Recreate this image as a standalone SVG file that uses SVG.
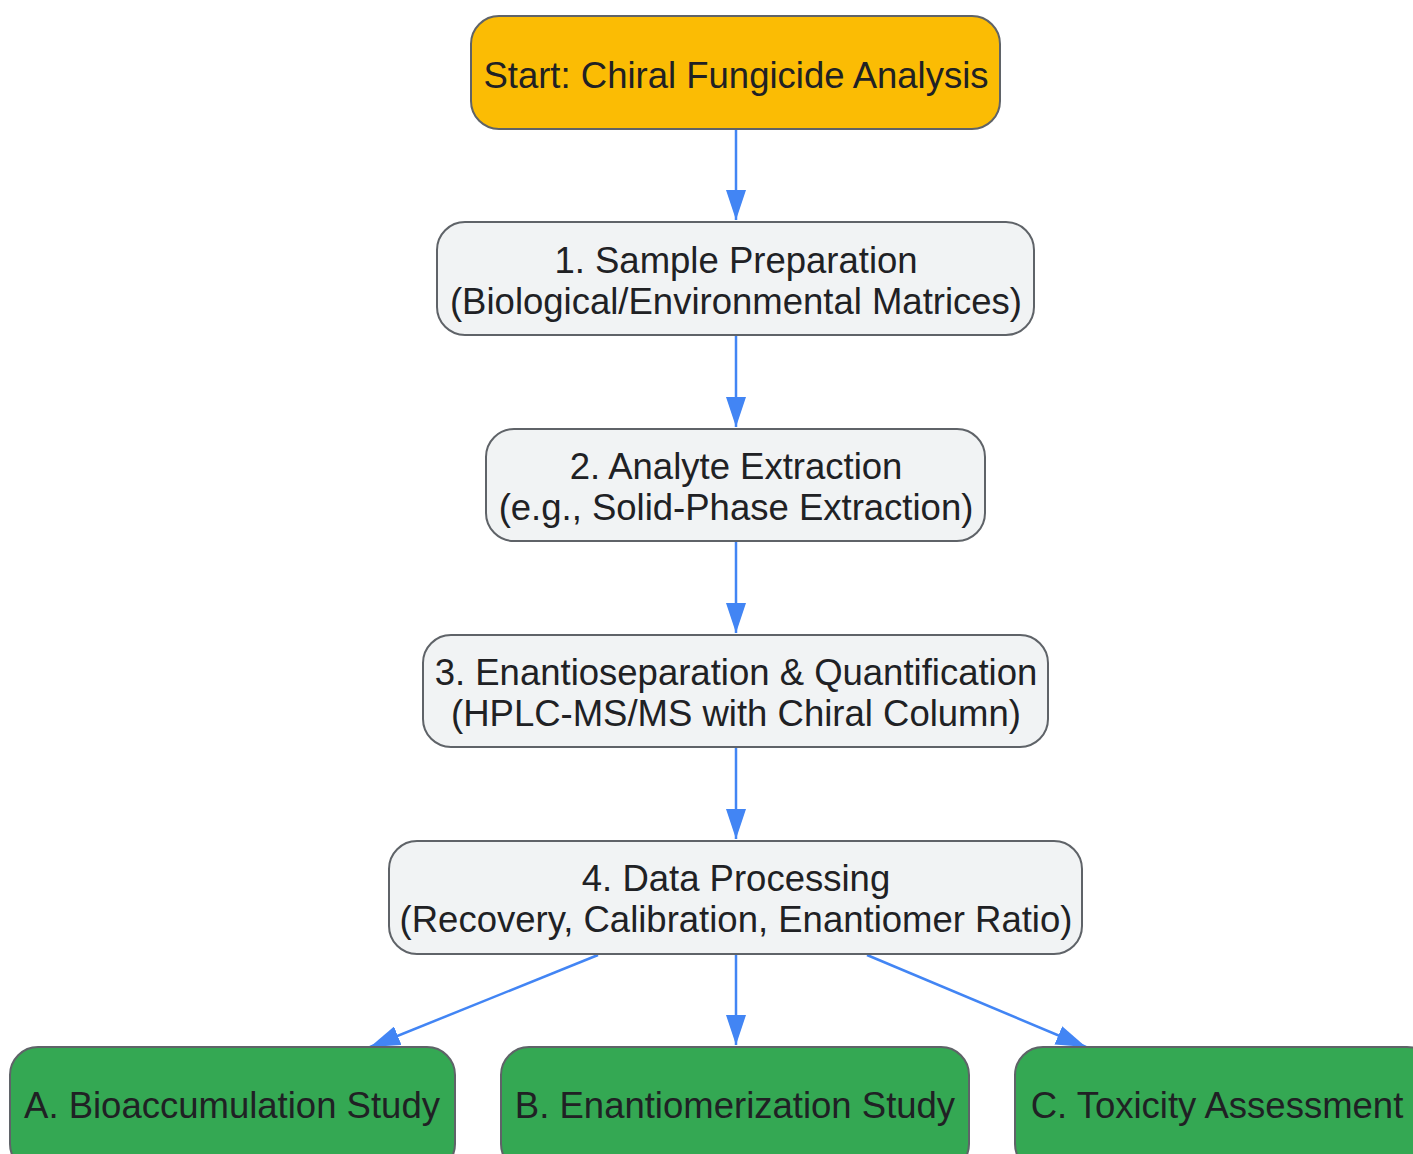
<svg xmlns="http://www.w3.org/2000/svg" width="1413" height="1154" viewBox="0 0 1413 1154">
<style>
.n rect{stroke:#5f6368;stroke-width:2}
.start rect{fill:#fbbc04}
.step rect{fill:#f1f3f4}
.out rect{fill:#34a853}
text{font-family:"Liberation Sans",Arial,sans-serif;font-size:36.5px;fill:#202124;text-anchor:middle}
.e{stroke:#4285f4;stroke-width:2.5;fill:none}
</style>
<defs>
<marker id="ah" viewBox="0 0 30 20" refX="30" refY="10" markerWidth="30" markerHeight="20" markerUnits="userSpaceOnUse" orient="auto">
<path d="M0,0 L30,10 L0,20 z" fill="#4285f4"/>
</marker>
</defs>
<g id="edges">
<line class="e" x1="736" y1="129" x2="736" y2="220" marker-end="url(#ah)"/>
<line class="e" x1="736" y1="335" x2="736" y2="427" marker-end="url(#ah)"/>
<line class="e" x1="736" y1="541" x2="736" y2="633" marker-end="url(#ah)"/>
<line class="e" x1="736" y1="747" x2="736" y2="839" marker-end="url(#ah)"/>
<line class="e" x1="598" y1="955" x2="370" y2="1047" marker-end="url(#ah)"/>
<line class="e" x1="736" y1="955" x2="736" y2="1045" marker-end="url(#ah)"/>
<line class="e" x1="867" y1="955" x2="1086" y2="1047" marker-end="url(#ah)"/>
</g>
<g id="start" class="n start">
<rect x="471" y="16" width="529" height="113" rx="28"/>
<text x="736" y="88">Start: Chiral Fungicide Analysis</text>
</g>
<g id="s1" class="n step">
<rect x="437" y="222" width="597" height="113" rx="28"/>
<text x="736" y="273">1. Sample Preparation</text>
<text x="736" y="314">(Biological/Environmental Matrices)</text>
</g>
<g id="s2" class="n step">
<rect x="486" y="429" width="499" height="112" rx="28"/>
<text x="736" y="479">2. Analyte Extraction</text>
<text x="736" y="520">(e.g., Solid-Phase Extraction)</text>
</g>
<g id="s3" class="n step">
<rect x="423" y="635" width="625" height="112" rx="28"/>
<text x="736" y="685">3. Enantioseparation &amp; Quantification</text>
<text x="736" y="726">(HPLC-MS/MS with Chiral Column)</text>
</g>
<g id="s4" class="n step">
<rect x="389" y="841" width="693" height="113" rx="28"/>
<text x="736" y="891">4. Data Processing</text>
<text x="736" y="932">(Recovery, Calibration, Enantiomer Ratio)</text>
</g>
<g id="a" class="n out">
<rect x="10" y="1047" width="445" height="125" rx="28"/>
<text x="232" y="1118">A. Bioaccumulation Study</text>
</g>
<g id="b" class="n out">
<rect x="501" y="1047" width="468" height="125" rx="28"/>
<text x="735" y="1118">B. Enantiomerization Study</text>
</g>
<g id="c" class="n out">
<rect x="1015" y="1047" width="420" height="125" rx="28"/>
<text x="1217" y="1118">C. Toxicity Assessment</text>
</g>
</svg>
